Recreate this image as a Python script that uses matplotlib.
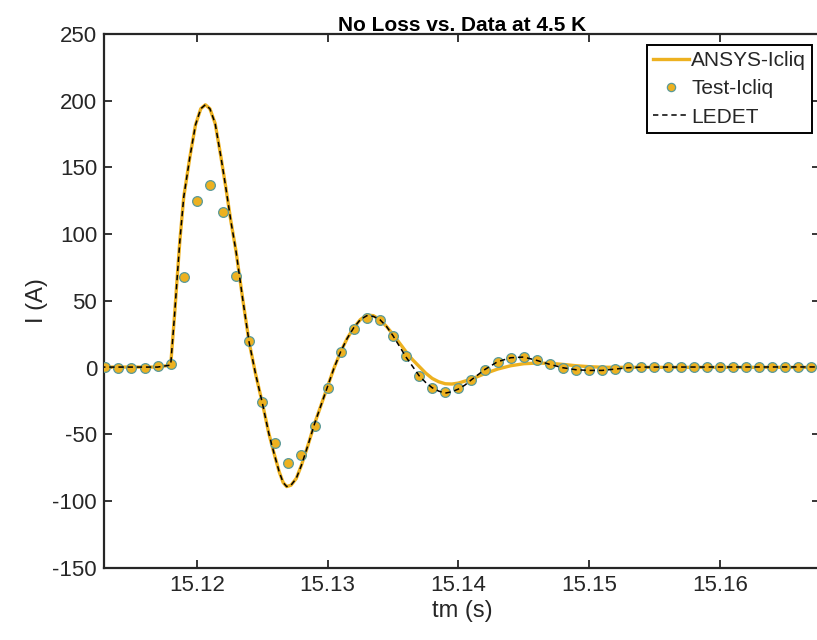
import matplotlib
matplotlib.use("Agg")
import matplotlib.pyplot as plt
import numpy as np

# ---------------- data ----------------
ansys_t = [15.1126, 15.1170, 15.1180, 15.1183, 15.1185, 15.1187, 15.1190, 15.11947, 15.1199,
           15.1203, 15.12065, 15.1210, 15.1214, 15.12184, 15.1222, 15.1226,
           15.1230, 15.1235, 15.1240, 15.1245, 15.1250, 15.1255, 15.1259, 15.1263, 15.1266,
           15.12687, 15.1272, 15.1276, 15.1280, 15.1285, 15.1290, 15.1295, 15.1300, 15.1305,
           15.1310, 15.1315, 15.1320, 15.1325, 15.1330, 15.1335, 15.1340, 15.1345, 15.1350,
           15.1355, 15.1360, 15.1365, 15.1370, 15.1375, 15.1380, 15.1385, 15.1390, 15.1395,
           15.1400, 15.1410, 15.1420, 15.1430, 15.1440, 15.1450, 15.1460, 15.1470, 15.1480,
           15.1490, 15.1500, 15.1510, 15.1520, 15.1680]
ansys_i = [0.5, 0.5, 2, 40, 68, 95, 128, 158, 182,
           194, 197, 194, 183, 158, 136, 110,
           87, 52, 19, -5, -26, -49, -64, -78, -86,
           -89, -88, -83, -73, -58, -42, -28, -14, 0,
           12, 22, 30, 36, 39.5, 39, 36, 31, 25,
           18.5, 12, 6, 1, -4, -8, -10.5, -12, -12.2,
           -11.5, -8.5, -4.5, -1, 1.5, 3, 3.5, 3.3, 2.5,
           1.5, 0.8, 0.4, 0.3, 0.3]

ledet_t = [15.1126, 15.1170, 15.1180, 15.1183, 15.1185, 15.1187, 15.1190, 15.11947, 15.1199,
           15.1203, 15.12065, 15.1210, 15.1214, 15.12184, 15.1222, 15.1226,
           15.1230, 15.1235, 15.1240, 15.1245, 15.1250, 15.1255, 15.1259, 15.1263, 15.1266,
           15.12687, 15.1272, 15.1276, 15.1280, 15.1285, 15.1290, 15.1295, 15.1300, 15.1305,
           15.1310, 15.1315, 15.1320, 15.1325, 15.1330, 15.1335, 15.1340, 15.1345, 15.1350,
           15.1355, 15.1360, 15.1365, 15.1370, 15.1375, 15.1380, 15.1385, 15.1390, 15.1395,
           15.1400, 15.1405, 15.1410, 15.1420, 15.1430, 15.1440, 15.1450, 15.1460, 15.1470,
           15.1480, 15.1490, 15.1500, 15.1510, 15.1520, 15.1530, 15.1540, 15.1680]
ledet_i = [0.5, 0.5, 2, 40, 68, 95, 128, 158, 182,
           194, 197, 194, 183, 158, 136, 110,
           87, 52, 19, -5, -26, -49, -64, -78, -86,
           -89, -88, -83, -73, -58, -42, -28, -14, 0,
           12, 22, 30, 36, 39, 38.5, 36, 31, 24,
           16, 8, 1, -6, -11, -15, -17.5, -19, -18,
           -16, -13, -9, -1.5, 4.5, 7.5, 8, 5.5, 2.5,
           0, -1.5, -2, -2, -1, 0, 0.5, 0.6]

test_t = [15.113, 15.114, 15.115, 15.116, 15.117, 15.118, 15.119, 15.120, 15.121, 15.122,
          15.123, 15.124, 15.125, 15.126, 15.127, 15.128, 15.129, 15.130, 15.131, 15.132,
          15.133, 15.134, 15.135, 15.136, 15.137, 15.138, 15.139, 15.140, 15.141, 15.142,
          15.143, 15.144, 15.145, 15.146, 15.147, 15.148, 15.149, 15.150, 15.151, 15.152,
          15.153, 15.154, 15.155, 15.156, 15.157, 15.158, 15.159, 15.160, 15.161, 15.162,
          15.163, 15.164, 15.165, 15.166, 15.167]
test_i = [0.5, 0, 0, 0, 1, 2.5, 68, 125, 137, 116.5,
          69, 20, -26, -56, -71, -65, -44, -15, 11.5, 29,
          37, 35.5, 24, 8.5, -6, -15, -18, -15, -9, -1.5,
          4.5, 7.5, 8, 5.5, 3, 0, -1.5, -2, -2, -1,
          0.3, 0.8, 0.6, 0.6, 0.6, 0.6, 0.6, 0.6, 0.6, 0.6,
          0.6, 0.6, 0.6, 0.6, 0.6]

x_ticks = [15.12, 15.13, 15.14, 15.15, 15.16]
y_ticks = [-150, -100, -50, 0, 50, 100, 150, 200, 250]

title_text = "No Loss vs. Data at 4.5 K"
labels = ["ANSYS-Icliq", "Test-Icliq", "LEDET"]

# ---------------- style ----------------
plt.rcParams['font.family'] = ['Liberation Sans', 'DejaVu Sans']
plt.rcParams['axes.unicode_minus'] = False
dark = '#262626'
orange = '#EDB120'

fig = plt.figure(figsize=(8.17, 6.40), dpi=100)
ax = fig.add_axes([0.1273, 0.1125, 0.8764, 0.8344])

ax.plot(ansys_t, ansys_i, color=orange, lw=2.4, label=labels[0], zorder=2)
ax.plot(test_t, test_i, linestyle='none', marker='o', markersize=7,
        markerfacecolor=orange, markeredgecolor='#5a9a9a', markeredgewidth=0.9,
        label=labels[1], zorder=3)
ax.plot(ledet_t, ledet_i, color='black', lw=1.1, linestyle=(0, (3.5, 2.5)),
        label=labels[2], zorder=4)

ax.set_xlim(15.1129, 15.16766)
ax.set_ylim(-150, 250)
ax.set_xticks(x_ticks)
ax.set_xticklabels([f"{v:.2f}" for v in x_ticks])
ax.set_yticks(y_ticks)

ax.tick_params(direction='in', top=True, right=True, length=6, width=1.3,
               labelsize=16, colors=dark, pad=5)
for sp in ax.spines.values():
    sp.set_linewidth(1.6)
    sp.set_color(dark)

ax.set_xlabel("tm (s)", fontsize=17, color=dark, labelpad=3)
ax.set_ylabel("I (A)", fontsize=17, color=dark, labelpad=3)
ax.set_title(title_text, fontsize=15, fontweight='bold', color='black', pad=2)

leg = ax.legend(loc='upper right', bbox_to_anchor=(0.989, 0.98), borderaxespad=0,
                fontsize=15, handlelength=1.7, handletextpad=0.12, borderpad=0.3,
                labelspacing=0.45, markerscale=0.85, fancybox=False, framealpha=1,
                edgecolor='black')
leg.get_frame().set_linewidth(1.4)
for txt in leg.get_texts():
    txt.set_color(dark)

fig.savefig("out.png", dpi=100)
